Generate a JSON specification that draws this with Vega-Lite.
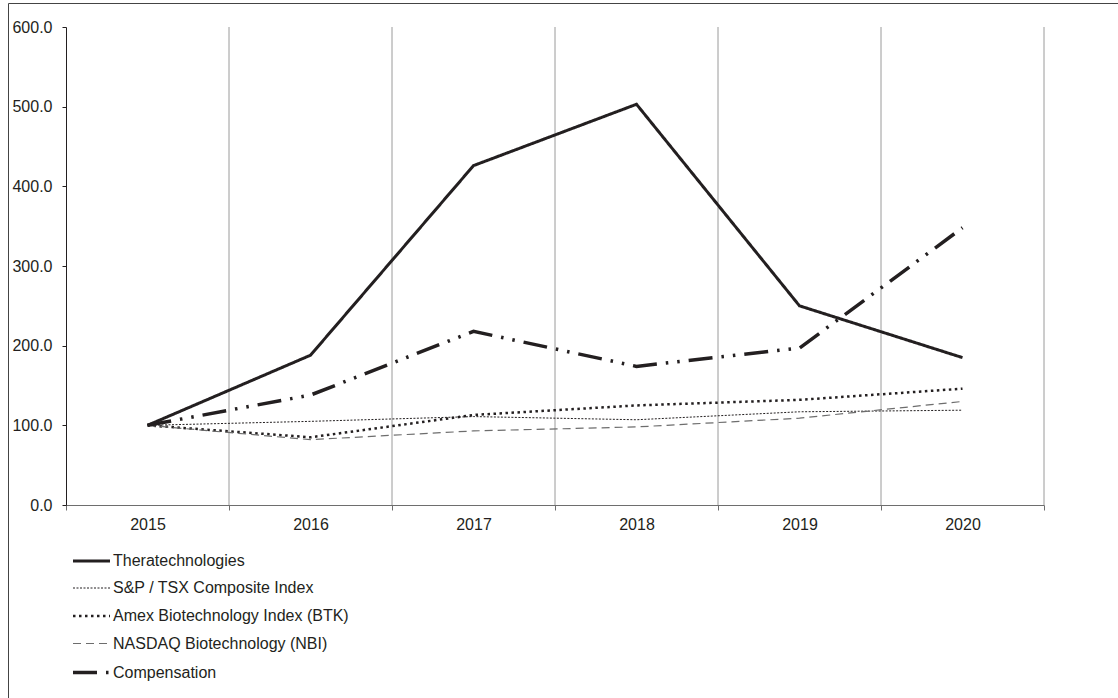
{
  "$schema": "https://vega.github.io/schema/vega-lite/v6.json",
  "width": 1110,
  "height": 695,
  "autosize": {"type": "none"},
  "padding": {"left": 8, "top": 3, "right": 0, "bottom": 0},
  "background": "white",
  "config": {
    "font": "Liberation Sans",
    "view": {"stroke": "#444444", "strokeWidth": 1},
    "legend": {
      "orient": "none", "legendX": 63, "legendY": 538, "title": null,
      "symbolType": "stroke", "symbolSize": 1369, "labelFontSize": 16,
      "labelColor": "#231f20", "labelOffset": 1, "rowPadding": -0.3, "padding": 0,
      "labelLimit": 500
    }
  },
  "data": {
    "values": [
      {"series": "Theratechnologies", "year": "2015", "value": 100},
      {"series": "Theratechnologies", "year": "2016", "value": 188},
      {"series": "Theratechnologies", "year": "2017", "value": 426},
      {"series": "Theratechnologies", "year": "2018", "value": 503},
      {"series": "Theratechnologies", "year": "2019", "value": 250},
      {"series": "Theratechnologies", "year": "2020", "value": 185},
      {"series": "S&P / TSX Composite Index", "year": "2015", "value": 100},
      {"series": "S&P / TSX Composite Index", "year": "2016", "value": 105},
      {"series": "S&P / TSX Composite Index", "year": "2017", "value": 111},
      {"series": "S&P / TSX Composite Index", "year": "2018", "value": 107},
      {"series": "S&P / TSX Composite Index", "year": "2019", "value": 117},
      {"series": "S&P / TSX Composite Index", "year": "2020", "value": 119},
      {"series": "Amex Biotechnology Index (BTK)", "year": "2015", "value": 100},
      {"series": "Amex Biotechnology Index (BTK)", "year": "2016", "value": 85},
      {"series": "Amex Biotechnology Index (BTK)", "year": "2017", "value": 113},
      {"series": "Amex Biotechnology Index (BTK)", "year": "2018", "value": 125},
      {"series": "Amex Biotechnology Index (BTK)", "year": "2019", "value": 132},
      {"series": "Amex Biotechnology Index (BTK)", "year": "2020", "value": 146},
      {"series": "NASDAQ Biotechnology (NBI)", "year": "2015", "value": 100},
      {"series": "NASDAQ Biotechnology (NBI)", "year": "2016", "value": 82},
      {"series": "NASDAQ Biotechnology (NBI)", "year": "2017", "value": 93},
      {"series": "NASDAQ Biotechnology (NBI)", "year": "2018", "value": 98},
      {"series": "NASDAQ Biotechnology (NBI)", "year": "2019", "value": 109},
      {"series": "NASDAQ Biotechnology (NBI)", "year": "2020", "value": 130},
      {"series": "Compensation", "year": "2015", "value": 100},
      {"series": "Compensation", "year": "2016", "value": 138},
      {"series": "Compensation", "year": "2017", "value": 218},
      {"series": "Compensation", "year": "2018", "value": 174},
      {"series": "Compensation", "year": "2019", "value": 197},
      {"series": "Compensation", "year": "2020", "value": 348}
    ]
  },
  "layer": [
    {
      "transform": [{"filter": "datum.series === 'Theratechnologies'"}],
      "mark": {"type": "rule", "color": "#9a9a9a", "strokeWidth": 1},
      "encoding": {
        "x": {
          "field": "year", "type": "ordinal", "bandPosition": 1,
          "scale": {"type": "band", "range": [58, 1036], "paddingInner": 0, "paddingOuter": 0},
          "axis": {
            "orient": "bottom", "offset": -193, "title": null, "tickBand": "extent",
            "domainColor": "#6e6e6e", "tickColor": "#6e6e6e", "tickSize": 5,
            "labelFontSize": 16, "labelPadding": 6, "labelAngle": 0, "labelColor": "#231f20",
            "grid": false
          }
        },
        "y": {
          "datum": 0, "type": "quantitative",
          "scale": {"domain": [0, 600], "range": [502, 24], "nice": false},
          "axis": {
            "orient": "left", "offset": -58, "values": [0, 100, 200, 300, 400, 500, 600],
            "format": ".1f", "title": null, "grid": false,
            "domainColor": "#231f20", "tickColor": "#231f20", "tickSize": 4,
            "labelFontSize": 16, "labelColor": "#231f20", "labelPadding": 10
          }
        },
        "y2": {"datum": 600}
      }
    },
    {
      "mark": {"type": "line"},
      "encoding": {
        "x": {
          "field": "year", "type": "ordinal",
          "scale": {"type": "band", "range": [58, 1036], "paddingInner": 0, "paddingOuter": 0},
          "axis": {
            "orient": "bottom", "offset": -193, "title": null, "tickBand": "extent",
            "domainColor": "#6e6e6e", "tickColor": "#6e6e6e", "tickSize": 5,
            "labelFontSize": 16, "labelPadding": 6, "labelAngle": 0, "labelColor": "#231f20",
            "grid": false
          }
        },
        "y": {
          "field": "value", "type": "quantitative",
          "scale": {"domain": [0, 600], "range": [502, 24], "nice": false},
          "axis": {
            "orient": "left", "offset": -58, "values": [0, 100, 200, 300, 400, 500, 600],
            "format": ".1f", "title": null, "grid": false,
            "domainColor": "#231f20", "tickColor": "#231f20", "tickSize": 4,
            "labelFontSize": 16, "labelColor": "#231f20", "labelPadding": 10
          }
        },
        "color": {
          "field": "series", "type": "nominal",
          "scale": {
            "domain": ["Theratechnologies", "S&P / TSX Composite Index", "Amex Biotechnology Index (BTK)", "NASDAQ Biotechnology (NBI)", "Compensation"],
            "range": ["#231f20", "#231f20", "#231f20", "#6d6d6d", "#231f20"]
          }
        },
        "strokeDash": {
          "field": "series", "type": "nominal",
          "scale": {
            "domain": ["Theratechnologies", "S&P / TSX Composite Index", "Amex Biotechnology Index (BTK)", "NASDAQ Biotechnology (NBI)", "Compensation"],
            "range": [[1, 0], [2, 1.5], [2.5, 3.5], [8, 5], [24, 9, 2.5, 9, 2.5, 9]]
          }
        },
        "strokeWidth": {
          "field": "series", "type": "nominal",
          "scale": {
            "type": "ordinal",
            "domain": ["Theratechnologies", "S&P / TSX Composite Index", "Amex Biotechnology Index (BTK)", "NASDAQ Biotechnology (NBI)", "Compensation"],
            "range": [3, 1, 2.5, 1.2, 3.5]
          }
        }
      }
    }
  ]
}
